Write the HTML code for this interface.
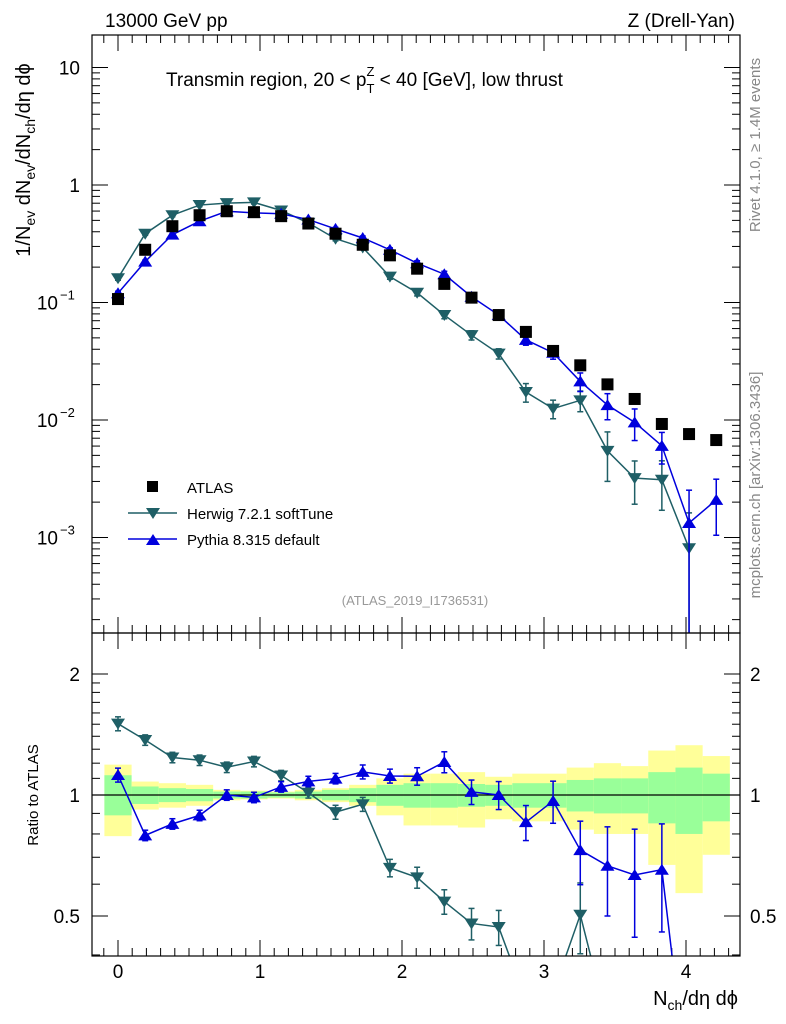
<!DOCTYPE html>
<html><head><meta charset="utf-8"><style>
html,body{margin:0;background:#fff;overflow:hidden;width:786px;height:1024px}
svg{display:block;font-family:"Liberation Sans",sans-serif}
</style></head><body>
<svg id="c" width="786" height="1024" viewBox="0 0 786 1024">
<text x="105" y="27" font-size="19">13000 GeV pp</text>
<text x="735" y="27" font-size="19" text-anchor="end">Z (Drell-Yan)</text>
<text x="166" y="86" font-size="19">Transmin region, 20 &lt; p<tspan font-size="13" dy="7">T</tspan><tspan font-size="13" dx="-8" dy="-17">Z</tspan><tspan dy="10"> &lt; 40 [GeV], low thrust</tspan></text>
<text transform="translate(760,145) rotate(-90)" font-size="15" fill="#888" text-anchor="middle">Rivet 4.1.0, ≥ 1.4M events</text>
<text transform="translate(760,485) rotate(-90)" font-size="15" fill="#888" text-anchor="middle">mcplots.cern.ch [arXiv:1306.3436]</text>
<text x="415" y="605" font-size="13" fill="#999" text-anchor="middle">(ATLAS_2019_I1736531)</text>
<text transform="translate(30,160) rotate(-90)" font-size="20" text-anchor="middle">1/N<tspan font-size="14" dy="5">ev</tspan><tspan dy="-5"> dN</tspan><tspan font-size="14" dy="5">ev</tspan><tspan dy="-5">/dN</tspan><tspan font-size="14" dy="5">ch</tspan><tspan dy="-5">/dη dϕ</tspan></text>
<text transform="translate(38,795) rotate(-90)" font-size="15" text-anchor="middle">Ratio to ATLAS</text>
<text x="738" y="1005" font-size="20" text-anchor="end">N<tspan font-size="14" dy="5">ch</tspan><tspan dy="-5">/dη dϕ</tspan></text>
<g id="bands"></g><g id="grid"></g><g id="series"></g>
<rect x="92" y="35" width="648" height="598" fill="none" stroke="#000" stroke-width="1.2"/>
<rect x="92" y="633" width="648" height="323" fill="none" stroke="#000" stroke-width="1.2"/>
<g>
<rect x="147" y="481" width="11" height="11" fill="#000"/>
<text x="187" y="493" font-size="15">ATLAS</text>
<line x1="128" y1="513" x2="177" y2="513" stroke="#1f5f66" stroke-width="1.5"/>
<path d="M146,508 L160,508 L153,519 Z" fill="#1f5f66"/>
<text x="187" y="519" font-size="15">Herwig 7.2.1 softTune</text>
<line x1="128" y1="539" x2="177" y2="539" stroke="#0000dd" stroke-width="1.5"/>
<path d="M146,545 L160,545 L153,534 Z" fill="#0000dd"/>
<text x="187" y="545" font-size="15">Pythia 8.315 default</text>
</g>
</svg>
<script>
const xStep = 0.1915;
const atlas = [0.107,0.281,0.446,0.553,0.598,0.587,0.543,0.470,0.385,0.310,0.252,0.194,0.144,0.110,0.0782,0.0562,0.0387,0.0292,0.0201,0.0151,0.00925,0.00759,0.00675];
const herwig = [0.161,0.385,0.553,0.675,0.701,0.711,0.607,0.476,0.349,0.294,0.166,0.121,0.0782,0.0527,0.0367,0.0173,0.0125,0.0147,0.00546,0.0032,0.0031,0.00081];
const herwigErr = [0.04,0.03,0.03,0.03,0.03,0.03,0.03,0.03,0.04,0.04,0.05,0.06,0.07,0.09,0.1,0.18,0.18,0.2,0.45,0.4,0.45,1.0];
const pythia = [0.120,0.223,0.378,0.492,0.598,0.579,0.569,0.508,0.423,0.354,0.281,0.216,0.174,0.112,0.0782,0.0481,0.0374,0.0213,0.0134,0.00955,0.00603,0.00133,0.00209];
const pythiaErr = [0.04,0.03,0.03,0.03,0.03,0.03,0.03,0.03,0.03,0.04,0.04,0.05,0.06,0.07,0.08,0.1,0.12,0.18,0.25,0.3,0.3,0.9,0.5];
const statLo = [0.89,0.95,0.96,0.965,0.98,0.98,0.985,0.98,0.97,0.96,0.94,0.93,0.93,0.935,0.94,0.93,0.93,0.91,0.9,0.9,0.85,0.8,0.86];
const statHi = [1.12,1.05,1.04,1.035,1.02,1.02,1.015,1.02,1.03,1.04,1.06,1.07,1.07,1.065,1.06,1.07,1.07,1.09,1.1,1.1,1.14,1.17,1.13];
const totLo = [0.79,0.92,0.93,0.94,0.97,0.975,0.98,0.97,0.96,0.94,0.89,0.84,0.84,0.83,0.87,0.86,0.86,0.82,0.8,0.8,0.67,0.57,0.71];
const totHi = [1.19,1.08,1.07,1.06,1.03,1.025,1.02,1.03,1.04,1.06,1.1,1.13,1.13,1.14,1.11,1.13,1.13,1.17,1.2,1.18,1.29,1.33,1.25];
const xTicks = [0,1,2,3,4];
const ratioTicks = [0.5,1,2];

const NS="http://www.w3.org/2000/svg";
const X0=92,X1=740,MT=35,MB=633,RB=956;
const sx=v=>118+v*142;
const sy=v=>185-Math.log10(v)*117.5;
const sr=v=>795-Math.log2(v)*121;
function mk(tag,attrs,parent){const e=document.createElementNS(NS,tag);for(const k in attrs)e.setAttribute(k,attrs[k]);parent.appendChild(e);return e;}
const gB=document.getElementById('bands'),gG=document.getElementById('grid'),gS=document.getElementById('series');
const clampR=y=>Math.max(MB,Math.min(RB,y));
const clampM=y=>Math.max(MT,Math.min(MB,y));

atlas.forEach((v,i)=>{
  const xa=sx((i-0.5)*xStep), xb=sx((i+0.5)*xStep);
  let r=mk('rect',{x:xa,y:sr(totHi[i]),width:xb-xa,height:sr(totLo[i])-sr(totHi[i]),fill:'#ffff99'},gB);
  
  
  r=mk('rect',{x:xa,y:sr(statHi[i]),width:xb-xa,height:sr(statLo[i])-sr(statHi[i]),fill:'#99ff99'},gB);
  
  
});
mk('line',{x1:X0,x2:X1,y1:sr(1),y2:sr(1),stroke:'#000','stroke-width':1.2},gB);

for(let v=-0.1;v<=4.35;v+=0.1){
  const vv=Math.round(v*10)/10, x=sx(vv); if(x<X0||x>X1)continue;
  const major=Math.abs(vv-Math.round(vv))<1e-6, L=major?16:8;
  [[MB,-1],[MT,1],[RB,-1],[MB,1]].forEach(([y,d])=>mk('line',{x1:x,x2:x,y1:y,y2:y+d*L,stroke:'#000'},gG));
}
xTicks.forEach(v=>{const t=mk('text',{x:sx(v),y:978,'font-size':19,'text-anchor':'middle'},gG);t.textContent=v;
  
  });
for(let d=-4;d<=1;d++){for(let m=1;m<10;m++){const v=m*Math.pow(10,d),y=sy(v);if(y<MT||y>MB)continue;const L=m==1?16:8;
  mk('line',{x1:X0,x2:X0+L,y1:y,y2:y,stroke:'#000'},gG);mk('line',{x1:X1,x2:X1-L,y1:y,y2:y,stroke:'#000'},gG);}}
[[10,'10'],[1,'1']].forEach(([v,s])=>{const t=mk('text',{x:80,y:sy(v)+7,'font-size':19,'text-anchor':'end'},gG);t.textContent=s;
  
  });
[-1,-2,-3].forEach(e=>{const t=mk('text',{x:58,y:sy(Math.pow(10,e))+7,'font-size':19,'text-anchor':'end'},gG);t.textContent='10';
  
  
  const s=mk('text',{x:60,y:sy(Math.pow(10,e))-3,'font-size':13},gG);s.textContent='−'+(-e);});
[0.4,0.5,0.6,0.7,0.8,0.9,1,1.1,1.2,1.3,1.4,1.5,1.6,1.7,1.8,1.9,2].forEach(v=>{const y=sr(v);if(y<MB||y>RB)return;
  const L=(v==0.5||v==1||v==2)?16:8;
  mk('line',{x1:X0,x2:X0+L,y1:y,y2:y,stroke:'#000'},gG);mk('line',{x1:X1,x2:X1-L,y1:y,y2:y,stroke:'#000'},gG);});
ratioTicks.forEach(v=>{[[80,'end'],[750,'start']].forEach(([x,a])=>{const t=mk('text',{x:x,y:sr(v)+7,'font-size':19,'text-anchor':a},gG);t.textContent=v;
  
  });});

function drawMC(vals,errs,color,down,name){
  const ptsM=[],ptsR=[];
  vals.forEach((v,i)=>{
    const x=sx(i*xStep), y=sy(v), lo=v*(1-Math.min(errs[i],0.999)), hi=v*(1+errs[i]);
    ptsM.push(x+','+y);
    const r=v/atlas[i]; ptsR.push(x+','+sr(r));
    mk('line',{x1:x,x2:x,y1:clampM(sy(hi)),y2:clampM(sy(lo)),stroke:color,'stroke-width':1.5},gS);
    if(sy(hi)>MT) mk('line',{x1:x-3,x2:x+3,y1:sy(hi),y2:sy(hi),stroke:color,'stroke-width':1.5},gS);
    if(sy(lo)<MB) mk('line',{x1:x-3,x2:x+3,y1:sy(lo),y2:sy(lo),stroke:color,'stroke-width':1.5},gS);
    const ry=sr(r), rh=sr(r*(1+errs[i])), rl=sr(r*(1-Math.min(errs[i],0.999)));
    if(ry>MB&&ry<RB){mk('line',{x1:x,x2:x,y1:clampR(rh),y2:clampR(rl),stroke:color,'stroke-width':1.5},gS);
      if(rh>MB&&rh<RB)mk('line',{x1:x-3,x2:x+3,y1:rh,y2:rh,stroke:color,'stroke-width':1.5},gS);
      if(rl<RB&&rl>MB)mk('line',{x1:x-3,x2:x+3,y1:rl,y2:rl,stroke:color,'stroke-width':1.5},gS);}
    [[y,MT,MB,'main'],[ry,MB,RB,'ratio']].forEach(([yy,a,b,p])=>{
      if(yy<a||yy>b)return;
      const d=down?`M${x-7},${yy-5} L${x+7},${yy-5} L${x},${yy+6} Z`:`M${x-7},${yy+5} L${x+7},${yy+5} L${x},${yy-6} Z`;
      const m=mk('path',{d:d,fill:color},gS);
      
      
    });
  });
  const cp1='cm'+name,cp2='cr'+name;
  const defs=mk('defs',{},gS);
  const c1=mk('clipPath',{id:cp1},defs);mk('rect',{x:X0,y:MT,width:X1-X0,height:MB-MT},c1);
  const c2=mk('clipPath',{id:cp2},defs);mk('rect',{x:X0,y:MB,width:X1-X0,height:RB-MB},c2);
  let l=mk('polyline',{points:ptsM.join(' '),fill:'none',stroke:color,'stroke-width':1.5,'clip-path':'url(#'+cp1+')'},gS);
  
  
  l=mk('polyline',{points:ptsR.join(' '),fill:'none',stroke:color,'stroke-width':1.5,'clip-path':'url(#'+cp2+')'},gS);
  
  
}
drawMC(herwig,herwigErr,'#1f5f66',true,'herwig');
drawMC(pythia,pythiaErr,'#0000dd',false,'pythia');
atlas.forEach((v,i)=>{const r=mk('rect',{x:sx(i*xStep)-6,y:sy(v)-6,width:12,height:12,fill:'#000'},gS);
  
  });
</script>
</body></html>
